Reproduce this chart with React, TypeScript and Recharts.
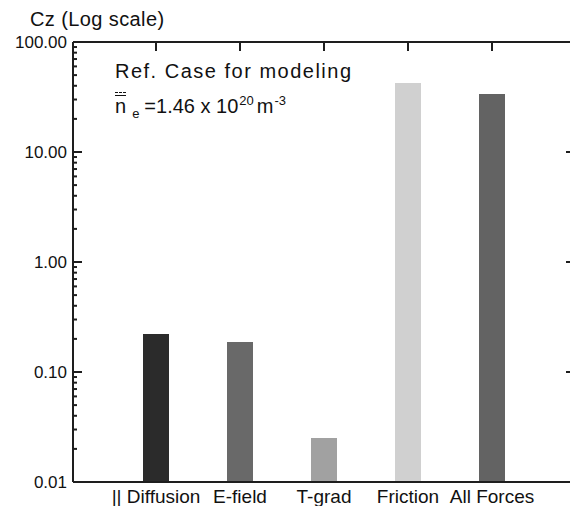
import { Bar, BarChart, Cell, XAxis, YAxis } from "recharts";

const categories = ["|| Diffusion", "E-field", "T-grad", "Friction", "All Forces"];
const czValues = [0.221, 0.187, 0.0251, 42.4, 33.7];
const barColors = ["#2b2b2b", "#696969", "#a1a1a1", "#d0d0d0", "#636363"];
const majorTicks = [0.01, 0.1, 1, 10, 100];
const rightTicks = [0.1, 1, 10];
const minorSteps = [2, 3, 4, 5, 6, 7, 8, 9];

const minorTicks = majorTicks
  .slice(0, -1)
  .flatMap((d) => minorSteps.map((m) => +(d * m).toPrecision(3)));
const leftTicks = [...majorTicks, ...minorTicks].sort((a, b) => a - b);

const data = categories.map((name, i) => ({ name, cz: czValues[i] }));

const FONT = '"Liberation Sans", Arial, Helvetica, sans-serif';
const AXIS = "#1e1e1e";
const PAD = { left: 41, right: 37 };

const leftTick = (props: any) => {
  const { x, y, payload } = props;
  const major = majorTicks.includes(payload.value);
  return (
    <g key={`l-${payload.value}`}>
      <line x1={x} x2={x + (major ? 9 : 4)} y1={y} y2={y} stroke={AXIS} strokeWidth={2} />
      {major && (
        <text x={x - 6} y={y} dy="0.36em" textAnchor="end" fontSize={17} fill="#111" fontFamily={FONT}>
          {payload.value.toFixed(2)}
        </text>
      )}
    </g>
  );
};

const rightTick = (props: any) => {
  const { x, y, payload } = props;
  return <line key={`r-${payload.value}`} x1={x - 5} x2={x} y1={y} y2={y} stroke={AXIS} strokeWidth={2} />;
};

const topTick = (props: any) => {
  const { x, y, payload } = props;
  return <line key={`t-${payload.value}`} x1={x} x2={x} y1={y} y2={y + 9} stroke={AXIS} strokeWidth={2} />;
};

const bottomTick = (props: any) => {
  const { x, y, payload } = props;
  return (
    <text key={`b-${payload.value}`} x={x} y={y + 21} textAnchor="middle" fontSize={19} fill="#111" fontFamily={FONT}>
      {payload.value}
    </text>
  );
};

const label = (left: number, top: number, extra: any = {}) => ({
  position: "absolute" as const,
  left,
  top,
  fontSize: 20,
  lineHeight: "20px",
  whiteSpace: "nowrap" as const,
  color: "#111",
  pointerEvents: "none" as const,
  ...extra,
});

const small = (top: number, marginLeft: number) => ({
  position: "relative" as const,
  top,
  marginLeft,
  fontSize: 13,
});

export default function App() {
  return (
    <div
      style={{
        position: "absolute",
        left: 0,
        top: 0,
        width: 570,
        height: 506,
        overflow: "hidden",
        background: "#fff",
        fontFamily: FONT,
      }}
    >
      <BarChart width={572} height={506} data={data} margin={{ top: 41, right: 0, left: 0, bottom: 0 }}>
        <XAxis
          dataKey="name"
          height={24}
          padding={PAD}
          axisLine={{ stroke: AXIS, strokeWidth: 2 }}
          tickLine={false}
          tickSize={0}
          tickMargin={0}
          interval={0}
          tick={bottomTick}
        />
        <XAxis
          xAxisId="top"
          dataKey="name"
          orientation="top"
          height={1}
          padding={PAD}
          axisLine={{ stroke: AXIS, strokeWidth: 2 }}
          tickLine={false}
          tickSize={0}
          tickMargin={0}
          interval={0}
          tick={topTick}
        />
        <YAxis
          scale="log"
          domain={[0.01, 100]}
          allowDataOverflow
          ticks={leftTicks}
          interval={0}
          width={73}
          axisLine={{ stroke: AXIS, strokeWidth: 2 }}
          tickLine={false}
          tickSize={0}
          tickMargin={0}
          tick={leftTick}
        />
        <YAxis
          yAxisId="right"
          orientation="right"
          scale="log"
          domain={[0.01, 100]}
          allowDataOverflow
          ticks={rightTicks}
          interval={0}
          width={1}
          axisLine={{ stroke: AXIS, strokeWidth: 2 }}
          tickLine={false}
          tickSize={0}
          tickMargin={0}
          tick={rightTick}
        />
        <Bar dataKey="cz" barSize={26} isAnimationActive={false}>
          {data.map((d, i) => (
            <Cell key={d.name} fill={barColors[i]} />
          ))}
        </Bar>
      </BarChart>

      <div style={label(30, 9, { letterSpacing: 0.4 })}>Cz (Log scale)</div>
      <div style={label(115, 61, { letterSpacing: 1.5 })}>Ref. Case for modeling</div>
      <div style={{ position: "absolute", left: 115, top: 92, width: 11, borderTop: "1px dashed #111" }} />
      <div style={{ position: "absolute", left: 115, top: 95, width: 11, borderTop: "1px solid #111" }} />
      <div style={label(115, 96)}>
        n
        <span style={small(5, 6)}>e</span>
        <span style={{ marginLeft: 5 }}>=1.46 x 10</span>
        <span style={small(-8, 1)}>20</span>
        <span style={{ marginLeft: 3 }}>m</span>
        <span style={small(-8, 1)}>-3</span>
      </div>
    </div>
  );
}
